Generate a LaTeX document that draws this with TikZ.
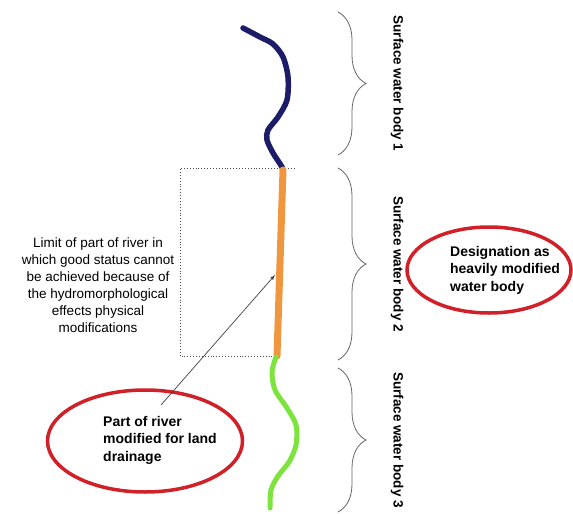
\documentclass[tikz,border=0pt]{standalone}
\usepackage{fontspec}
\setmainfont{Liberation Sans}
\usepackage{xcolor}
\usetikzlibrary{shapes.geometric,decorations.pathreplacing,arrows}

\definecolor{riverblue}{RGB}{28,28,105}
\definecolor{riverorange}{RGB}{240,150,62}
\definecolor{rivergreen}{RGB}{125,228,62}
\definecolor{ringred}{RGB}{210,32,40}

\begin{document}
\begin{tikzpicture}[x=1pt, y=-1pt]
    \tikzstyle{ring} = [ellipse, draw=ringred, line width=3.5pt, inner sep=0pt]
    \tikzstyle{ringtext} = [align=left, inner sep=0pt, font=\fontsize{14}{17.5}\selectfont\bfseries]
    \tikzstyle{bodylabel} = [rotate=-90, inner sep=0pt, font=\fontsize{13.5}{16}\selectfont\bfseries]
    \tikzstyle{river} = [line cap=round, line join=round]
    \useasboundingbox (0,0) rectangle (573,514);

    % limit of the modified stretch
    \draw[black!70, dotted, line width=0.9pt] (295,168) -| (180,356) -- (277,356);

    % the river, three water bodies
    \draw[river, riverblue, line width=5.5pt] plot[smooth] coordinates {(243,28) (260,37) (273,44) (283,57) (288,77) (287,100) (278,117) (268,130) (267,140) (273,153) (282,167) (283,172)};
    \draw[river, riverorange, line width=7pt] (283,170) -- (277,356);
    \draw[river, rivergreen, line width=5pt] plot[smooth] coordinates {(276,357) (272,372) (275,390) (287,408) (296,425) (296,445) (289,462) (278,476) (271,490) (270,508)};

    \node[align=center, inner sep=0pt, font=\fontsize{13.5}{17}\selectfont] (limit) at (98,285)
        {Limit of part of river in\\which good status cannot\\be achieved because of\\the hydromorphological\\effects physical\\modifications};

    % braces and water body names
    \foreach \t/\b/\n in {12/155/1, 168/360/2, 368/512/3} {
        \coordinate (top\n) at (338,\t);
        \coordinate (bot\n) at (338,\b);
        \draw[black!60, thick, decorate, decoration={brace, amplitude=28pt}] (top\n) -- (bot\n);
        \node[bodylabel] (body\n) at (397,{(\t+\b)/2}) {Surface water body \n};
    }

    % red rings
    \node[ring, minimum width=164pt, minimum height=86pt] (hmwb) at (489,270) {};
    \node[ringtext] (hmwbtext) at (505,270) {Designation as\\heavily modified\\water body};

    \node[ring, minimum width=195pt, minimum height=102pt] (drain) at (145,441) {};
    \node[ringtext] (draintext) at (160,440) {Part of river\\modified for land\\drainage};

    \coordinate (arrowfoot) at (161,405);
    \coordinate (arrowtip) at (275,275);
    \draw[black!75, line width=0.7pt, -latex] (arrowfoot) -- (arrowtip);
\end{tikzpicture}
\end{document}
